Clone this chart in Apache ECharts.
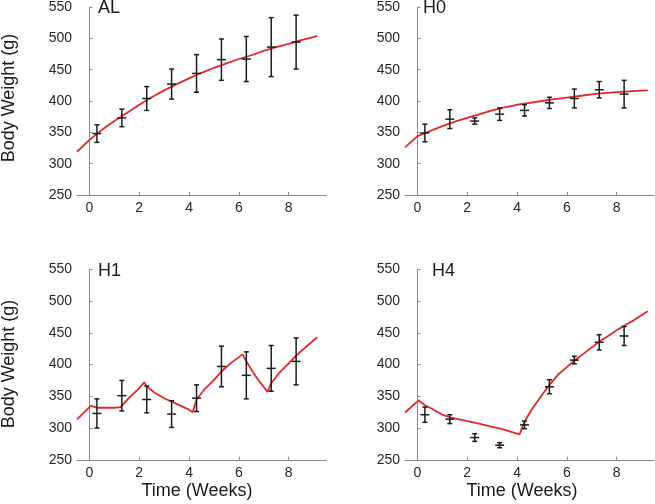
<!DOCTYPE html>
<html><head><meta charset="utf-8">
<script src="https://cdn.jsdelivr.net/npm/echarts@6/dist/echarts.min.js"></script>
<style>html,body{margin:0;padding:0;background:#fff}#c{width:655px;height:504px}</style>
</head><body><div id="c"></div>
<script>
// ---- data ----
var panelNames = ['AL', 'H0', 'H1', 'H4'];
var xTicks = [0, 2, 4, 6, 8];
var yTicks = [250, 300, 350, 400, 450, 500, 550];
var weekX = [0.3, 1.3, 2.3, 3.3, 4.3, 5.3, 6.3, 7.3, 8.3];

var meanAL = [348, 373, 404, 427, 444, 466, 467, 486, 494];
var errAL  = [14, 14, 19, 24, 30, 33, 36, 47, 43];
var meanH0 = [349, 371, 368, 379, 385, 397, 404, 418, 411];
var errH0  = [14, 15, 5, 10, 9, 9, 15, 13, 22];
var meanH1 = [323, 351, 345, 322, 347, 397, 383, 394, 405];
var errH1  = [23, 24, 21, 21, 21, 32, 37, 36, 37];
var meanH4 = [321, 314, 285, 273, 305, 365, 407, 435, 445];
var errH4  = [12, 7, 6, 4, 6, 11, 6, 12, 15];

var curveAL = [[-0.5,319],[0,338],[0.5,354],[1,368],[1.5,381],[2,394],[2.5,406],[3,417],[3.5,427],[4,436],[4.5,445],[5,453],[5.5,460],[6,467],[6.5,473],[7,480],[7.5,486],[8,491],[8.5,497],[9,502],[9.15,504]];
var curveH0 = [[-0.5,326],[0,344],[0.5,352],[1,360],[1.5,367],[2,373],[2.5,379],[3,385],[3.5,390],[4,394],[4.5,397],[5,400],[5.5,403],[6,405.5],[6.5,408],[7,410.5],[7.5,412.5],[8,414],[8.5,415.5],[9,416.5],[9.25,417]];
var curveH1 = [[-0.5,313.5],[0.05,335],[0.3,332],[0.7,332],[1.0,332],[1.25,333],[1.6,348],[2.0,363],[2.2,372],[2.3,366],[2.6,356],[3.0,347],[3.5,338],[4.0,329],[4.15,325],[4.3,345],[4.6,360],[5.0,376],[5.3,389],[5.7,403],[6.15,416],[6.3,405],[6.7,380],[7.15,357],[7.3,371],[7.6,386],[8.0,402],[8.3,414],[8.7,428],[9.15,443]];
var curveH4 = [[-0.5,324.5],[0.05,343.5],[0.3,336],[0.6,330],[1.0,321],[1.3,317],[2.0,311],[2.3,308.5],[3.0,302],[3.3,299.5],[4.1,290],[4.3,310],[4.6,330],[5.0,352],[5.3,368],[5.7,386],[6.0,396],[6.3,406],[6.7,418],[7.0,427],[7.3,436],[7.7,446],[8.0,454],[8.3,461],[8.7,470],[9.25,484]];

var means = [meanAL, meanH0, meanH1, meanH4];
var errs = [errAL, errH0, errH1, errH4];
var curves = [curveAL, curveH0, curveH1, curveH4];

// ---- layout ----
var grids = [
  {left: 77, top: 4.5, width: 249, height: 190.5},
  {left: 405, top: 4.5, width: 249, height: 190.5},
  {left: 77, top: 269.3, width: 249, height: 190.5},
  {left: 405, top: 269.3, width: 249, height: 190.5}
];
var FONT = 'Liberation Sans, Arial, Helvetica, sans-serif';
var axisGray = '#8a8a8a';
var labelColor = '#262626';

var xAxes = [], yAxes = [], series = [];
for (var i = 0; i < 4; i++) {
  xAxes.push({
    type: 'value', gridIndex: i, min: -0.5, max: 9.5,
    axisLine: {show: true, lineStyle: {color: axisGray, width: 1}},
    axisTick: {show: true, inside: true, length: 3, customValues: xTicks, lineStyle: {color: axisGray}},
    axisLabel: {show: true, customValues: xTicks, color: labelColor, fontSize: 14, fontFamily: FONT, margin: 6},
    splitLine: {show: false}
  });
  yAxes.push({
    type: 'value', gridIndex: i, min: 250, max: 550, interval: 50,
    axisLine: {show: true, lineStyle: {color: axisGray, width: 1}},
    axisTick: {show: true, inside: true, length: 3, lineStyle: {color: axisGray}},
    axisLabel: {show: true, color: labelColor, fontSize: 14, fontFamily: FONT, margin: 5},
    splitLine: {show: false}
  });
  series.push({
    type: 'line', xAxisIndex: i, yAxisIndex: i, data: curves[i],
    showSymbol: false, smooth: false, silent: true, z: 2,
    lineStyle: {color: '#e2272b', width: 1.8}
  });
  var rows = [];
  for (var k = 0; k < weekX.length; k++) {
    rows.push([weekX[k], means[i][k], means[i][k] - errs[i][k], means[i][k] + errs[i][k]]);
  }
  series.push({
    type: 'custom', xAxisIndex: i, yAxisIndex: i, data: rows, z: 3, silent: true,
    renderItem: function (params, api) {
      var x = api.value(0);
      var pm = api.coord([x, api.value(1)]);
      var pl = api.coord([x, api.value(2)]);
      var ph = api.coord([x, api.value(3)]);
      var st = {stroke: '#1c1c1c', lineWidth: 1.5, fill: null};
      var cap = 2.5, mw = 4.5;
      return {type: 'group', children: [
        {type: 'line', shape: {x1: pm[0], y1: ph[1], x2: pm[0], y2: pl[1]}, style: st},
        {type: 'line', shape: {x1: pm[0] - cap, y1: ph[1], x2: pm[0] + cap, y2: ph[1]}, style: st},
        {type: 'line', shape: {x1: pm[0] - cap, y1: pl[1], x2: pm[0] + cap, y2: pl[1]}, style: st},
        {type: 'line', shape: {x1: pm[0] - mw, y1: pm[1], x2: pm[0] + mw, y2: pm[1]}, style: st}
      ]};
    }
  });
}

var titlePos = [[98, -1], [423, -1], [98, 262], [432, 262]];
var graphics = [];
for (var j = 0; j < 4; j++) {
  graphics.push({type: 'text', left: titlePos[j][0], top: titlePos[j][1], z: 10,
    style: {text: panelNames[j], fontSize: 18, fontFamily: FONT, fill: '#1a1a1a'}});
}
graphics.push({type: 'text', x: 9, y: 98, rotation: Math.PI / 2, z: 10,
  style: {text: 'Body Weight (g)', fontSize: 18, fontFamily: FONT, fill: '#1a1a1a', textAlign: 'center', textVerticalAlign: 'middle'}});
graphics.push({type: 'text', x: 9, y: 364, rotation: Math.PI / 2, z: 10,
  style: {text: 'Body Weight (g)', fontSize: 18, fontFamily: FONT, fill: '#1a1a1a', textAlign: 'center', textVerticalAlign: 'middle'}});
graphics.push({type: 'text', x: 197, y: 491, z: 10,
  style: {text: 'Time (Weeks)', fontSize: 18, fontFamily: FONT, fill: '#1a1a1a', textAlign: 'center', textVerticalAlign: 'middle'}});
graphics.push({type: 'text', x: 522, y: 491, z: 10,
  style: {text: 'Time (Weeks)', fontSize: 18, fontFamily: FONT, fill: '#1a1a1a', textAlign: 'center', textVerticalAlign: 'middle'}});

var chart = echarts.init(document.getElementById('c'), null, {renderer: 'canvas'});
chart.setOption({
  animation: false,
  backgroundColor: '#fff',
  grid: grids,
  xAxis: xAxes,
  yAxis: yAxes,
  series: series,
  graphic: graphics
});
</script></body></html>
